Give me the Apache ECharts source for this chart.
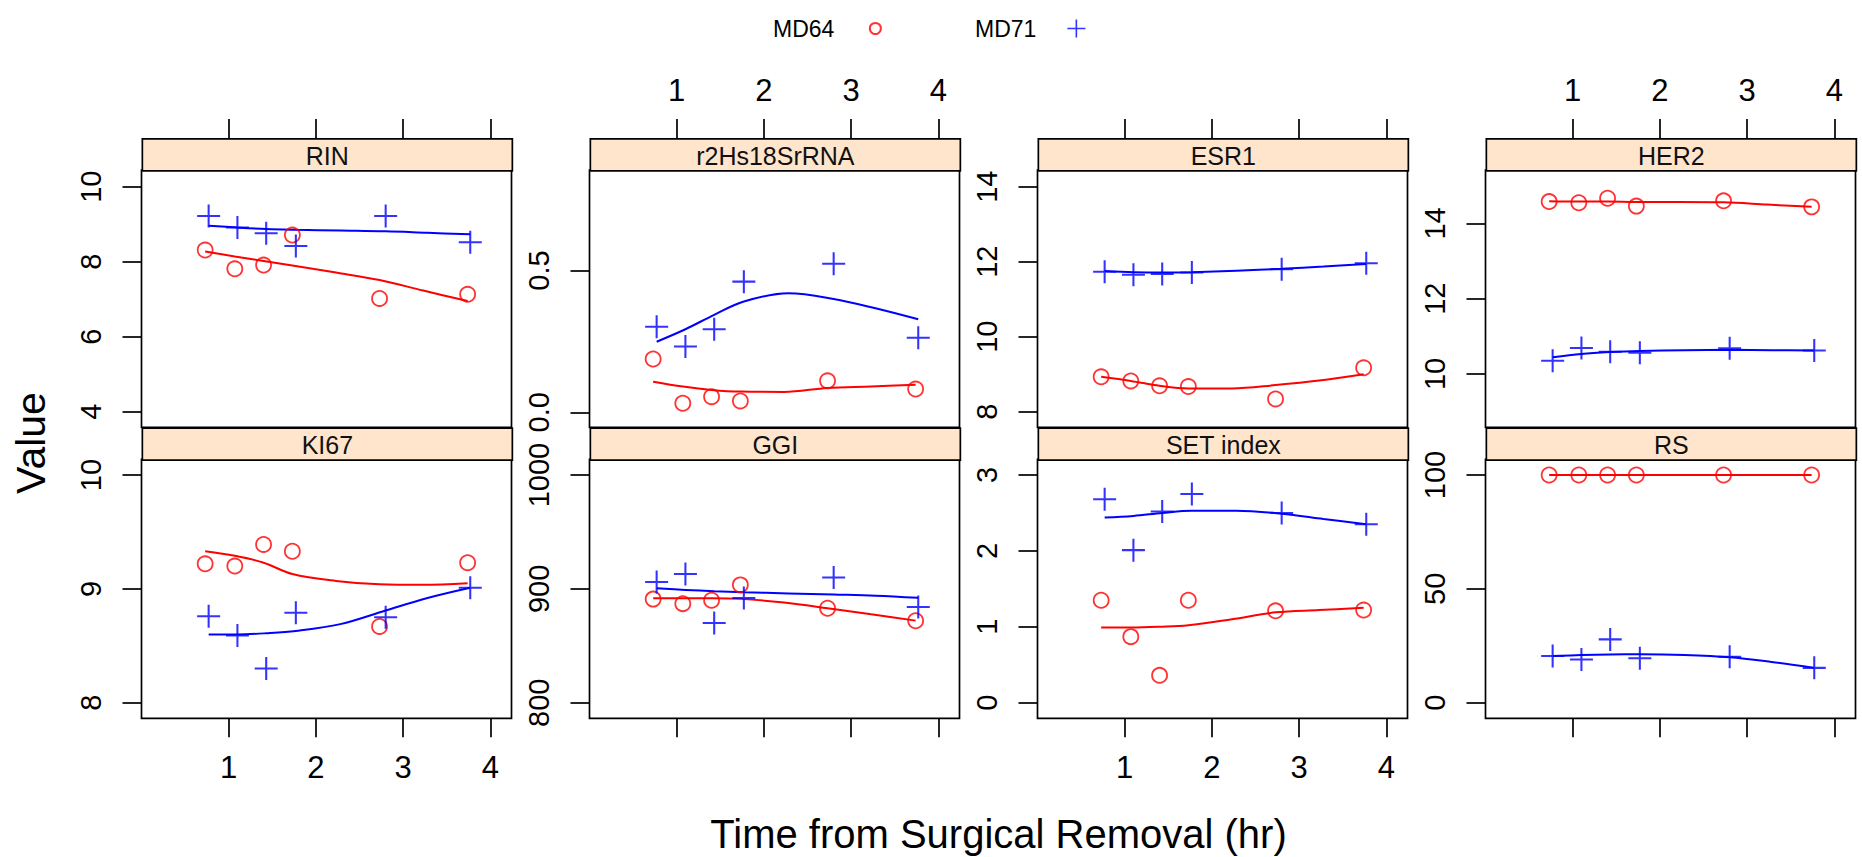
<!DOCTYPE html>
<html><head><meta charset="utf-8">
<script src="https://cdn.jsdelivr.net/npm/echarts@6/dist/echarts.min.js"></script>
<style>html,body{margin:0;padding:0;background:#fff}#c{width:1862px;height:857px}</style>
</head><body><div id="c"></div>
<script>
// ---------------- data ----------------
const panelNames = ['RIN', 'r2Hs18SrRNA', 'ESR1', 'HER2', 'KI67', 'GGI', 'SET index', 'RS'];
const seriesNames = ['MD64', 'MD71'];
const timeMD64 = [0.73, 1.07, 1.40, 1.73, 2.73, 3.74];
const timeMD71 = [0.77, 1.10, 1.43, 1.77, 2.80, 3.77];
const fitTimeMD64 = [0.73, 1.07, 1.40, 1.73, 2.23, 2.73, 3.23, 3.74];
const fitTimeMD71 = [0.77, 1.10, 1.43, 1.77, 2.28, 2.80, 3.28, 3.77];

const rinMD64 = [8.31, 7.81, 7.91, 8.71, 7.02, 7.13];
const rinMD71 = [9.22, 8.91, 8.76, 8.42, 9.22, 8.52];
const rinFitMD64 = [8.27, 8.14, 8.02, 7.90, 7.71, 7.51, 7.23, 6.95];
const rinFitMD71 = [8.96, 8.91, 8.87, 8.85, 8.83, 8.81, 8.77, 8.73];

const r2MD64 = [0.188, 0.032, 0.055, 0.040, 0.111, 0.082];
const r2MD71 = [0.302, 0.232, 0.293, 0.461, 0.524, 0.263];
const r2FitMD64 = [0.108, 0.091, 0.079, 0.073, 0.072, 0.086, 0.091, 0.097];
const r2FitMD71 = [0.249, 0.293, 0.344, 0.391, 0.420, 0.400, 0.367, 0.328];

const esr1MD64 = [8.93, 8.82, 8.69, 8.67, 8.34, 9.17];
const esr1MD71 = [11.73, 11.65, 11.67, 11.71, 11.80, 11.96];
const esr1FitMD64 = [8.93, 8.82, 8.69, 8.62, 8.62, 8.71, 8.83, 9.00];
const esr1FitMD71 = [11.75, 11.72, 11.71, 11.72, 11.76, 11.81, 11.87, 11.94];

const her2MD64 = [14.58, 14.55, 14.67, 14.46, 14.60, 14.44];
const her2MD71 = [10.35, 10.69, 10.59, 10.56, 10.68, 10.62];
const her2FitMD64 = [14.59, 14.58, 14.58, 14.57, 14.57, 14.56, 14.50, 14.44];
const her2FitMD71 = [10.44, 10.53, 10.58, 10.61, 10.63, 10.64, 10.63, 10.62];

const ki67MD64 = [9.22, 9.20, 9.39, 9.33, 8.67, 9.23];
const ki67MD71 = [8.76, 8.59, 8.30, 8.79, 8.75, 9.01];
const ki67FitMD64 = [9.33, 9.29, 9.23, 9.13, 9.07, 9.04, 9.035, 9.05];
const ki67FitMD71 = [8.60, 8.60, 8.61, 8.63, 8.69, 8.81, 8.92, 9.01];

const ggiMD64 = [891, 887, 890, 903.5, 883, 872];
const ggiMD71 = [906, 913, 870, 892, 910, 884];
const ggiFitMD64 = [891.7, 891.7, 891.7, 891.2, 888, 883, 877.6, 872.1];
const ggiFitMD71 = [900.5, 899.1, 897.9, 897.0, 896.0, 895.0, 894.0, 892.1];

const setMD64 = [1.35, 0.87, 0.36, 1.35, 1.21, 1.22];
const setMD71 = [2.68, 2.01, 2.52, 2.75, 2.50, 2.35];
const setFitMD64 = [0.99, 0.99, 1.00, 1.02, 1.10, 1.19, 1.22, 1.25];
const setFitMD71 = [2.44, 2.46, 2.50, 2.53, 2.53, 2.49, 2.42, 2.35];

const rsMD64 = [100, 100, 100, 100, 100, 100];
const rsMD71 = [20.5, 19.0, 27.8, 19.5, 20.2, 15.3];
const rsFitMD64 = [100, 100, 100, 100, 100, 100, 100, 100];
const rsFitMD71 = [20.5, 20.9, 21.2, 21.3, 21.0, 20.0, 17.9, 15.3];

// axis limits and tick labels
const xLimits = [0, 4.243];
const xTicks = [1, 2, 3, 4];
const yMin = [3.584, -0.053, 7.584, 8.58, 7.863, 786.3, -0.206, -6.85];
const yMax = [10.445, 0.855, 14.445, 15.42, 10.138, 1013.8, 3.207, 106.9];
const yTicks = [[4, 6, 8, 10], [0, 0.5], [8, 10, 12, 14], [10, 12, 14], [8, 9, 10], [800, 900, 1000], [0, 1, 2, 3], [0, 50, 100]];
const yDecimals = [0, 1, 0, 0, 0, 0, 0, 0];

const valsMD64 = [rinMD64, r2MD64, esr1MD64, her2MD64, ki67MD64, ggiMD64, setMD64, rsMD64];
const valsMD71 = [rinMD71, r2MD71, esr1MD71, her2MD71, ki67MD71, ggiMD71, setMD71, rsMD71];
const fitMD64 = [rinFitMD64, r2FitMD64, esr1FitMD64, her2FitMD64, ki67FitMD64, ggiFitMD64, setFitMD64, rsFitMD64];
const fitMD71 = [rinFitMD71, r2FitMD71, esr1FitMD71, her2FitMD71, ki67FitMD71, ggiFitMD71, setFitMD71, rsFitMD71];

// ---------------- style / layout ----------------
const FONT = '"Liberation Sans", Arial, Helvetica, sans-serif';
const RED = '#FF0000', BLUE = '#0000FF';
const PLUS = 'path://M0,9.1H20V10.9H0Z M9.1,0H10.9V20H9.1Z';
const GX0 = 141.5, GDX = 448, GW = 370, STRIP = 32;
const ROWTOP = [170, 459.3], ROWH = [257.3, 259];

const zip = (xs, ys) => xs.map((x, i) => [x, ys[i]]);

const grids = [], xAxes = [], yAxes = [], series = [], graphics = [];

panelNames.forEach((name, p) => {
  const row = p < 4 ? 0 : 1, col = p % 4;
  const left = GX0 + GDX * col, top = ROWTOP[row], h = ROWH[row];
  grids.push({ left, top, width: GW, height: h, show: true, borderColor: '#000', borderWidth: 1.7, backgroundColor: 'transparent' });
  const showX = row === 0 ? (col % 2 === 1) : (col % 2 === 0);
  xAxes.push({
    gridIndex: p, type: 'value', min: xLimits[0], max: xLimits[1],
    position: row === 0 ? 'top' : 'bottom', offset: row === 0 ? STRIP : 0,
    axisLine: { show: false, onZero: false }, splitLine: { show: false },
    axisTick: { show: true, inside: false, length: 19, customValues: xTicks, lineStyle: { color: '#000', width: 1.7 } },
    axisLabel: { show: showX, customValues: xTicks, margin: row === 0 ? 32 : 34, fontSize: 31, color: '#000', fontFamily: FONT }
  });
  const dec = yDecimals[p];
  yAxes.push({
    gridIndex: p, type: 'value', min: yMin[p], max: yMax[p], position: 'left',
    axisLine: { show: false, onZero: false }, splitLine: { show: false },
    axisTick: { show: true, inside: false, length: 19, customValues: yTicks[p], lineStyle: { color: '#000', width: 1.7 } },
    axisLabel: { show: true, rotate: 90, customValues: yTicks[p], margin: 36, fontSize: 29, color: '#000', fontFamily: FONT,
      formatter: v => Number(v).toFixed(dec) }
  });
  series.push({
    name: 'MD64', type: 'scatter', xAxisIndex: p, yAxisIndex: p, data: zip(timeMD64, valsMD64[p]),
    symbol: 'circle', symbolSize: 15, silent: true,
    itemStyle: { color: 'rgba(0,0,0,0)', borderColor: RED, borderWidth: 1.8 }, z: 3
  });
  series.push({
    name: 'MD64 fit', type: 'line', xAxisIndex: p, yAxisIndex: p, data: zip(fitTimeMD64, fitMD64[p]),
    showSymbol: false, smooth: 0.35, silent: true, lineStyle: { color: RED, width: 2 }, itemStyle: { color: RED }, z: 2
  });
  series.push({
    name: 'MD71', type: 'scatter', xAxisIndex: p, yAxisIndex: p, data: zip(timeMD71, valsMD71[p]),
    symbol: PLUS, symbolSize: 23, silent: true, itemStyle: { color: BLUE }, z: 3
  });
  series.push({
    name: 'MD71 fit', type: 'line', xAxisIndex: p, yAxisIndex: p, data: zip(fitTimeMD71, fitMD71[p]),
    showSymbol: false, smooth: 0.35, silent: true, lineStyle: { color: BLUE, width: 2 }, itemStyle: { color: BLUE }, z: 2
  });
  // strip
  graphics.push({
    type: 'group', left: left, top: top - STRIP, silent: true,
    children: [
      { type: 'rect', shape: { x: 0, y: 0, width: GW, height: STRIP }, style: { fill: '#FFE5CC', stroke: '#000', lineWidth: 1.7 } },
      { type: 'text', x: GW / 2, y: STRIP / 2 + 1, style: { text: name, fontSize: 25, fontFamily: FONT, fill: '#111', align: 'center', verticalAlign: 'middle' } }
    ]
  });
});

graphics.push({
  type: 'text', x: 31, y: 443, rotation: Math.PI / 2, silent: true,
  style: { text: 'Value', fontSize: 41, fontFamily: FONT, fill: '#000', align: 'center', verticalAlign: 'middle' }
});
graphics.push({
  type: 'text', x: 998.5, y: 834, silent: true,
  style: { text: 'Time from Surgical Removal (hr)', fontSize: 40, fontFamily: FONT, fill: '#000', align: 'center', verticalAlign: 'middle' }
});

const option = {
  backgroundColor: '#fff',
  animation: false,
  legend: [
    { data: ['MD64'], left: 768, top: 12, align: 'right', itemWidth: 72, itemHeight: 11, selectedMode: false,
      textStyle: { fontSize: 23, fontFamily: FONT, color: '#000' } },
    { data: ['MD71'], left: 970, top: 12, align: 'right', itemWidth: 70, itemHeight: 18, selectedMode: false,
      textStyle: { fontSize: 23, fontFamily: FONT, color: '#000' } }
  ],
  grid: grids, xAxis: xAxes, yAxis: yAxes, series: series, graphic: graphics
};

const chart = echarts.init(document.getElementById('c'), null, { renderer: 'svg', width: 1862, height: 857 });
chart.setOption(option);
</script>
</body></html>
